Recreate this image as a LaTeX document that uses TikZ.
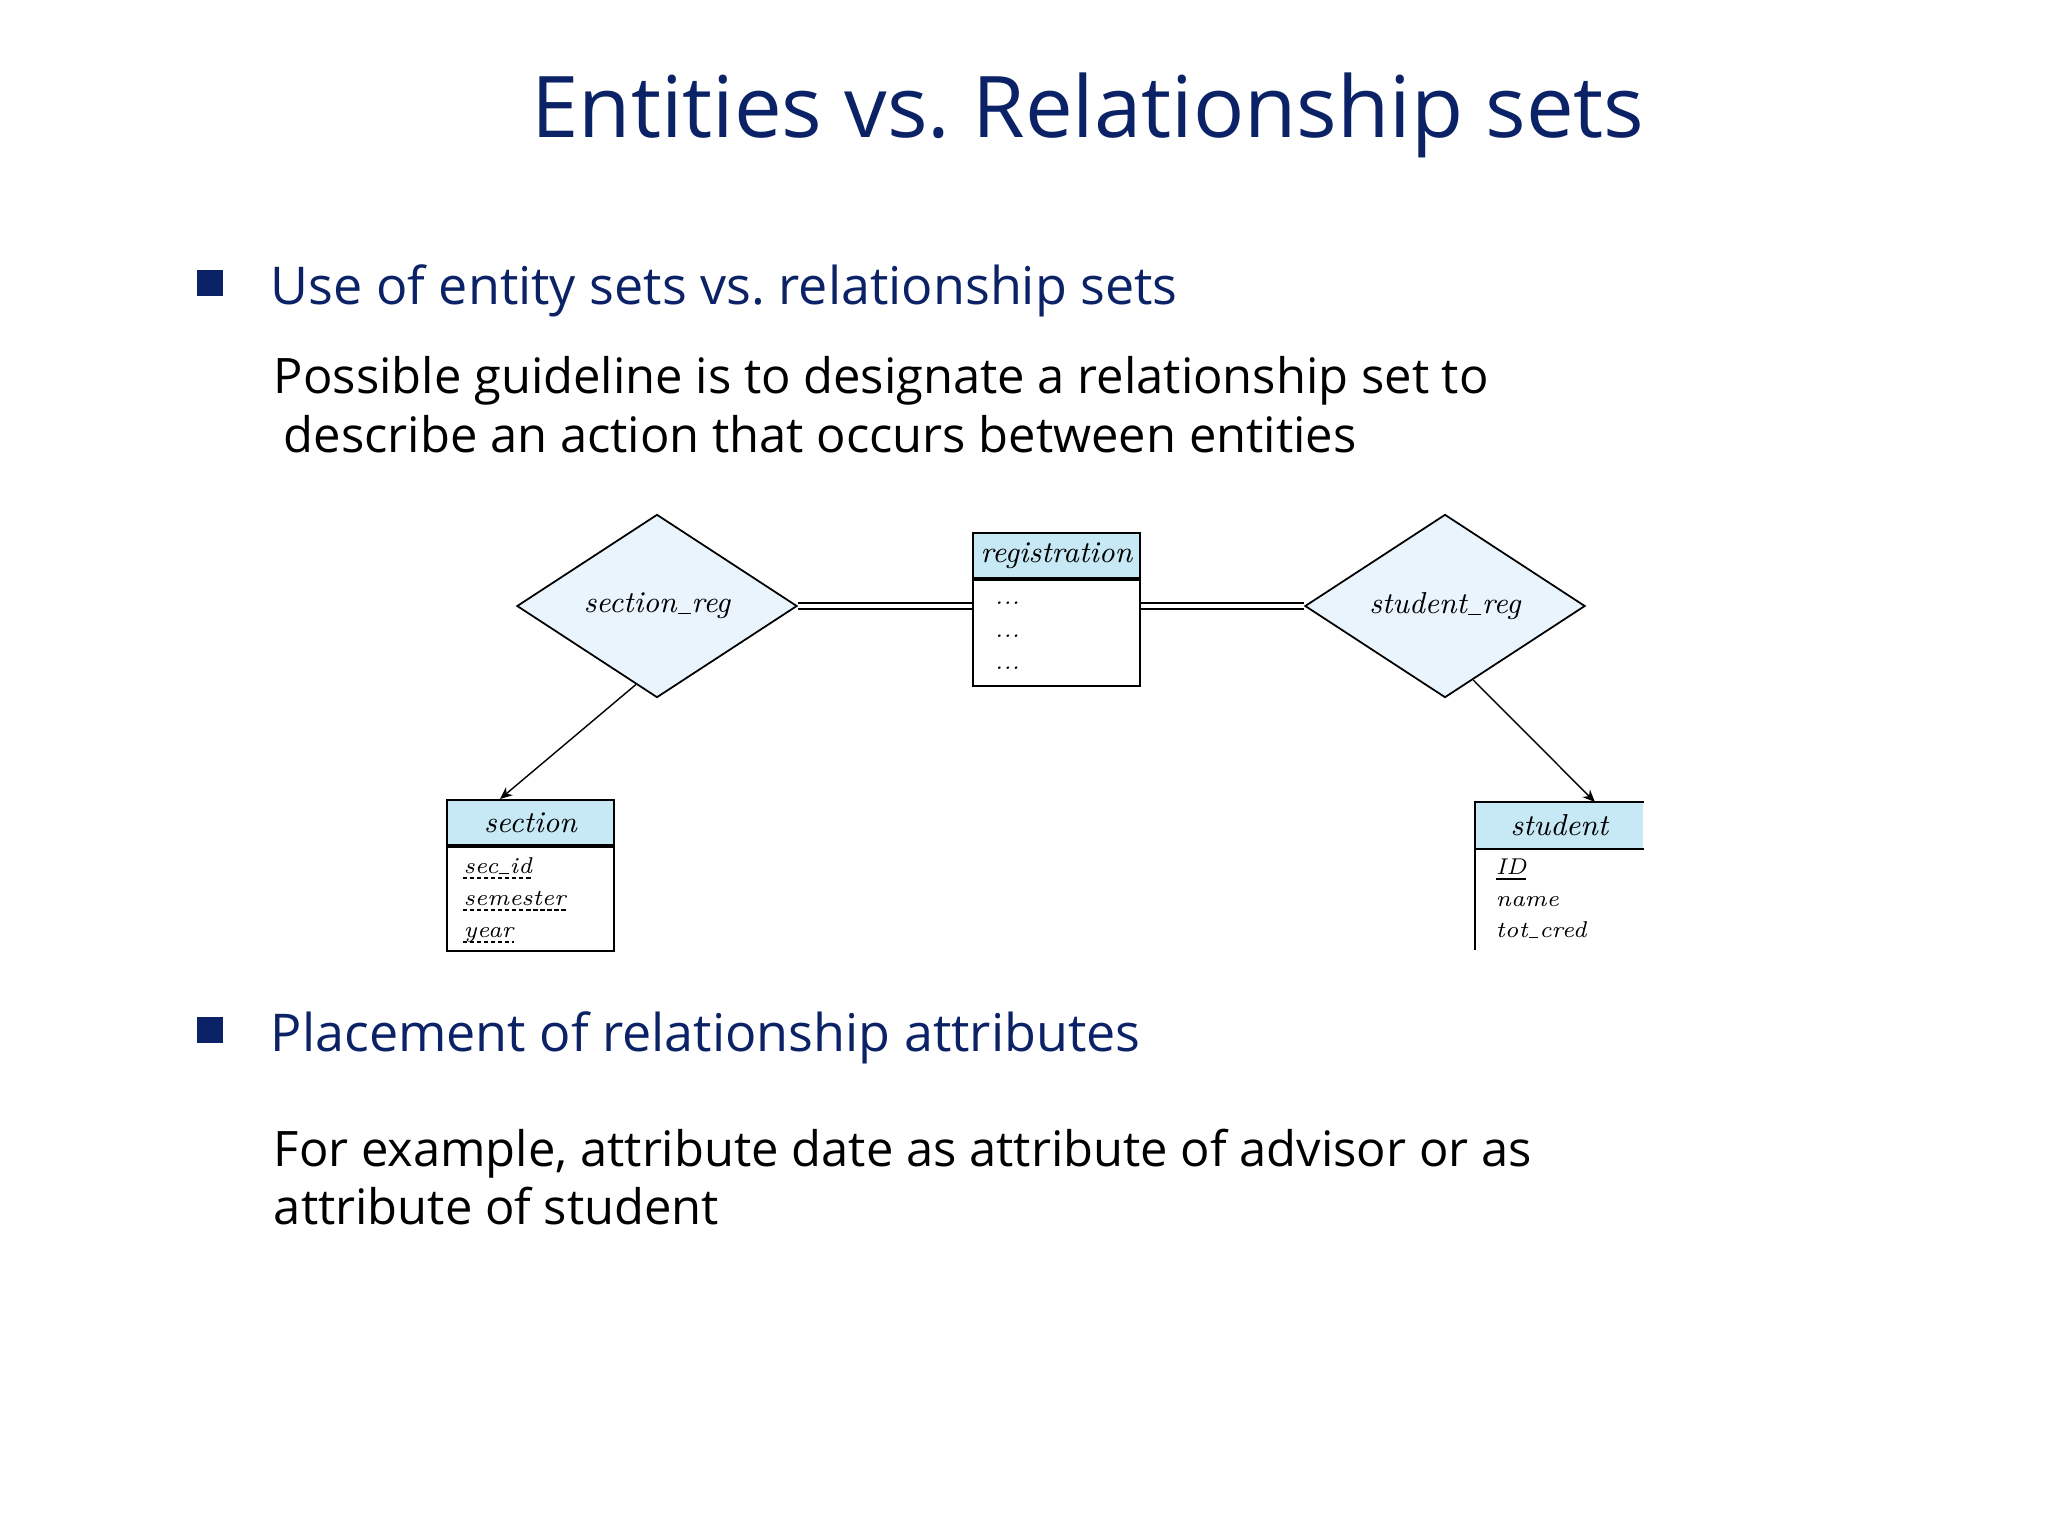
\documentclass[tikz,border=0pt]{standalone}
\usepackage{fontspec}
\usetikzlibrary{shapes.geometric,arrows.meta,calc}
\newfontfamily\slidefont{Open Sans}
\definecolor{slideblue}{RGB}{12,34,102}
\definecolor{headblue}{RGB}{198,233,245}
\definecolor{relblue}{RGB}{234,244,252}
\newcommand{\erlabel}{\itshape\fontsize{8.6}{10}\selectfont}
\newcommand{\erattr}{\itshape\fontsize{6.5}{8}\selectfont}
\newcommand{\us}{\kern0.04em\rule[-0.12ex]{0.42em}{0.045em}\kern0.04em}

\begin{document}
\begin{tikzpicture}[x=0.01cm, y=-0.01cm,
    title/.style={anchor=base, inner sep=0pt, text=slideblue, font=\slidefont\fontsize{24.2}{29}\selectfont},
    bullet/.style={draw=none, fill=slideblue, rectangle, minimum size=0.26cm, inner sep=0pt},
    point/.style={anchor=base west, inner sep=0pt, text=slideblue, font=\slidefont\fontsize{14.8}{18}\selectfont},
    line/.style={anchor=base west, inner sep=0pt, font=\slidefont\fontsize{13.9}{17}\selectfont},
    rel/.style={draw, diamond, fill=relblue, aspect=1.53, minimum width=2.8cm, minimum height=1.83cm, inner sep=0pt, font=\erlabel},
    head/.style={rectangle, anchor=north west, fill=headblue, minimum width=1.67cm, minimum height=0.45cm, inner sep=0pt, font=\erlabel},
    body/.style={draw, rectangle, anchor=north west, minimum width=1.67cm, minimum height=1.06cm, inner sep=0pt},
    attr/.style={anchor=base west, inner sep=0pt, font=\erattr},
    key/.style={line width=0.3pt, dash pattern=on 1.2pt off 0.8pt},
    dbl/.style={double, double distance=1.4pt, line width=0.4pt},
    arr/.style={line width=0.4pt, -{Stealth[length=3.5pt,width=3pt]}},
    every path/.style={line width=0.5pt}]
    \useasboundingbox (0,0) rectangle (2048,1536);

    % Title
    \node[title] (title) at (1088,137) {Entities vs.\ Relationship sets};

    % First point
    \node[bullet] (bullet-1) at (210,283) {};
    \node[point] (point-1) at (270,304) {Use of entity sets vs.\ relationship sets};
    \node[line] (line-1-1) at (273,393) {Possible guideline is to designate a relationship set to};
    \node[line] (line-1-2) at (283,452) {describe an action that occurs between entities};

    % Relationship sets
    \node[rel] (section-reg) at (657,606) {section\us reg};
    \node[rel] (student-reg) at (1445,606) {student\us reg};

    % registration
    \node[head, draw] (registration-head) at (972,532) {registration};
    \node[body] (registration-body) at (registration-head.south west) {};
    \node[attr] (registration-1) at (994,604) {...};
    \node[attr] (registration-2) at (994,637) {...};
    \node[attr] (registration-3) at (994,669) {...};

    % section
    \node[head, draw] (section-head) at (446,799) {section};
    \node[body, minimum height=1.04cm] (section-body) at (section-head.south west) {};
    \node[attr] (section-1) at (463,873) {sec\us id};
    \node[attr] (section-2) at (463,905) {semester};
    \node[attr] (section-3) at (463,937) {year};
    \foreach \a in {1,2,3}
        \draw[key] ($(section-\a.base west)+(0,5)$) -- ($(section-\a.base east)+(0,5)$);

    % student
    \node[head] (student-head) at (1475,802) {student};
    \draw (student-head.north east) -- (student-head.north west) -- ++(0,148);
    \draw (student-head.south west) -- (student-head.south east);
    \node[attr] (student-1) at (1495,874) {\underline{ID}};
    \node[attr] (student-2) at (1495,906) {name};
    \node[attr] (student-3) at (1495,937) {tot\us cred};

    % Connectors
    \draw[dbl] (section-reg.east) -- (section-reg.east -| registration-head.west);
    \draw[dbl] (registration-head.east |- student-reg.west) -- (student-reg.west);
    \draw[arr] ($(section-reg.west)!0.85!(section-reg.south)$) -- ($(section-head.north west)!0.32!(section-head.north east)$);
    \draw[arr] ($(student-reg.south)!0.2!(student-reg.east)$) -- ($(student-head.north west)!0.71!(student-head.north east)$);

    % Second point
    \node[bullet] (bullet-2) at (210,1030) {};
    \node[point] (point-2) at (270,1051) {Placement of relationship attributes};
    \node[line] (line-2-1) at (273,1166) {For example, attribute date as attribute of advisor or as};
    \node[line] (line-2-2) at (273,1224) {attribute of student};
\end{tikzpicture}
\end{document}
